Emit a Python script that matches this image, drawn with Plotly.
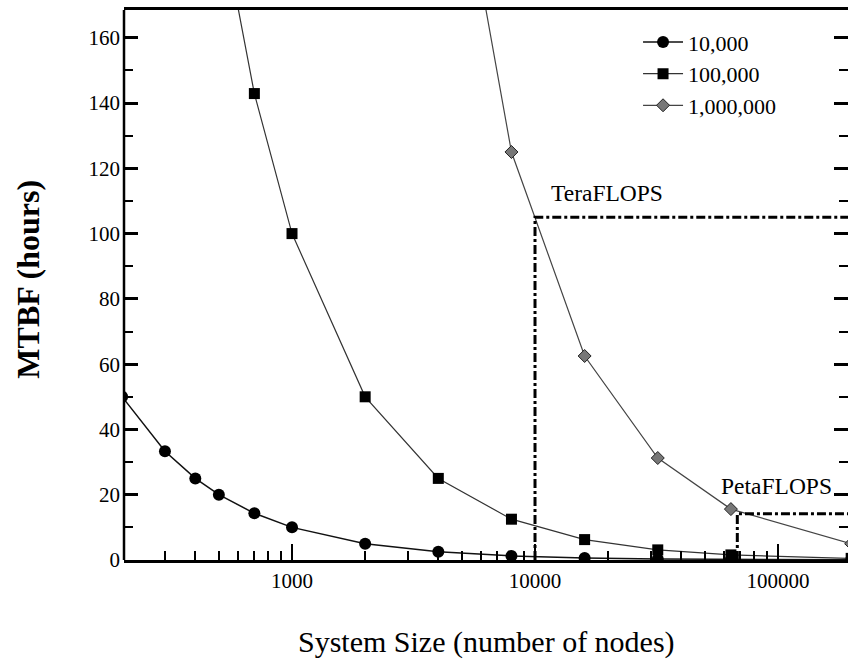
import plotly.graph_objects as go

# System sizes (number of nodes)
nodes = [200, 300, 400, 500, 700, 1000, 2000, 4000, 8000, 16000, 32000, 64000, 200000]

# MTBF (hours) for node MTBF of 10,000 / 100,000 / 1,000,000 hours
mtbf_10k = [50, 33.3, 25, 20, 14.3, 10, 5, 2.5, 1.25, 0.63, 0.31, 0.16, 0.05]
mtbf_100k = [500, 333, 250, 200, 142.9, 100, 50, 25, 12.5, 6.25, 3.1, 1.56, 0.5]
mtbf_1m = [5000, 3333, 2500, 2000, 1429, 1000, 500, 250, 125, 62.5, 31.25, 15.6, 5]

series_names = ["10,000", "100,000", "1,000,000"]

# Performance thresholds (system size, MTBF)
tera_x, tera_y = 10000, 105
peta_x, peta_y = 68000, 14.2

X_MIN, X_MAX = 2.3086, 5.288
Y_MAX = 168.5

FONT = "Liberation Serif"

fig = go.Figure()

fig.add_trace(go.Scatter(
    x=nodes, y=mtbf_10k, name=series_names[0], mode="lines+markers",
    line=dict(color="#111111", width=1.5),
    marker=dict(symbol="circle", size=12, color="#000000"),
))
fig.add_trace(go.Scatter(
    x=nodes, y=mtbf_100k, name=series_names[1], mode="lines+markers",
    line=dict(color="#333333", width=1.2),
    marker=dict(symbol="square", size=11, color="#000000"),
))
fig.add_trace(go.Scatter(
    x=nodes, y=mtbf_1m, name=series_names[2], mode="lines+markers",
    line=dict(color="#444444", width=1.2),
    marker=dict(symbol="diamond", size=10, color="#777777",
                line=dict(color="#222222", width=1)),
))

dash_style = dict(color="#000000", width=3, dash="9px,3px,3px,3px")
# TeraFLOPS threshold
fig.add_trace(go.Scatter(
    x=[tera_x, tera_x, 10 ** X_MAX], y=[0, tera_y, tera_y], mode="lines",
    line=dash_style, showlegend=False, hoverinfo="skip",
))
# PetaFLOPS threshold
fig.add_trace(go.Scatter(
    x=[peta_x, peta_x, 10 ** X_MAX], y=[0, peta_y, peta_y], mode="lines",
    line=dash_style, showlegend=False, hoverinfo="skip",
))

fig.add_annotation(x=4.0576, y=112.4, xref="x", yref="y", text="TeraFLOPS",
                   showarrow=False, xanchor="left", yanchor="middle",
                   font=dict(family=FONT, size=23.5, color="#000"))
fig.add_annotation(x=4.757, y=22.6, xref="x", yref="y", text="PetaFLOPS",
                   showarrow=False, xanchor="left", yanchor="middle",
                   font=dict(family=FONT, size=23.5, color="#000"))

fig.add_annotation(x=0.5, y=-0.149, xref="paper", yref="paper",
                   text="System Size (number of nodes)", showarrow=False,
                   xanchor="center", yanchor="middle",
                   font=dict(family=FONT, size=30, color="#000"))
fig.add_annotation(x=-0.133, y=0.511, xref="paper", yref="paper",
                   text="<b>MTBF (hours)</b>", showarrow=False, textangle=-90,
                   xanchor="center", yanchor="middle",
                   font=dict(family=FONT, size=32, color="#000"))

# left axis line
fig.add_shape(type="line", xref="paper", yref="paper", x0=0, x1=0, y0=0, y1=1,
              line=dict(color="#000", width=2.5))

fig.update_layout(
    width=848, height=662,
    margin=dict(l=124, r=0, t=10, b=102),
    paper_bgcolor="white", plot_bgcolor="white",
    font=dict(family=FONT, size=21, color="#000"),
    legend=dict(x=0.71, y=0.9795, xanchor="left", yanchor="top",
                bgcolor="rgba(0,0,0,0)", font=dict(family=FONT, size=22),
                itemwidth=40, tracegroupgap=0),
    showlegend=True,
)

fig.update_xaxes(
    type="log", range=[X_MIN, X_MAX], dtick=1, tickformat="d",
    showgrid=False, zeroline=False,
    showline=True, linecolor="#000", linewidth=2.5, mirror=True,
    ticks="inside", ticklen=16, tickwidth=2, tickcolor="#000",
    minor=dict(dtick="D1", ticks="inside", ticklen=9, tickwidth=2, tickcolor="#000", showgrid=False),
    tickfont=dict(family=FONT, size=21),
)
fig.update_yaxes(
    range=[0, Y_MAX], dtick=20, tick0=0,
    showgrid=False, zeroline=False,
    showline=False, mirror="ticks",
    ticks="inside", ticklen=14, tickwidth=2.5, tickcolor="#000",
    minor=dict(dtick=10, ticks="inside", ticklen=9, tickwidth=2, tickcolor="#000", showgrid=False),
    tickfont=dict(family=FONT, size=21), ticklabelstandoff=3,
)

fig.write_html("out.html")
